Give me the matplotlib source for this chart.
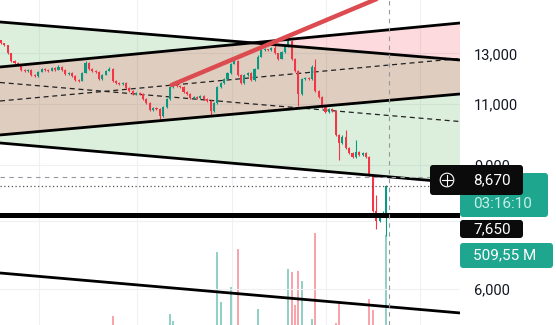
import matplotlib
matplotlib.use("Agg")
import matplotlib.pyplot as plt
from matplotlib.patches import FancyBboxPatch, Circle
from matplotlib.lines import Line2D
from matplotlib.transforms import IdentityTransform
from matplotlib.ticker import NullLocator

plt.rcParams['font.family'] = ['Roboto', 'DejaVu Sans']

# daily candles (price, log scale)
opens = [13570, 13440, 13350, 13000, 12700, 12615, 12530, 12325, 12285, 12325,
         12120, 12080, 12245, 12365, 12325, 12285, 12405, 12325, 12450, 12325,
         12160, 12200, 12080, 11920, 11880, 12200, 12615, 12365, 12285, 12245,
         11960, 12120, 12285, 12365, 11880, 11800, 11760, 11800, 11610, 11490,
         11380, 11415, 11380, 11190, 11040, 10790, 10860, 10820, 10575, 10895,
         11190, 11645, 11720, 11685, 11645, 11455, 11380, 11225, 11265, 11225,
         11300, 11190, 11115, 10750, 11040, 11645, 11800, 11960, 12200, 12575,
         12700, 12120, 11800, 12120, 12200, 11920, 12365, 12870, 13130, 13175,
         13130, 13220, 13000, 12785, 13045, 13305, 13530, 12785, 12285, 11380,
         11960, 12000, 11960, 12450, 11490, 11265, 10895, 10715, 10820, 10750,
         9955, 9695, 9890, 9535, 9375, 9255, 9410, 9315, 9375, 9255,
         8715, 7755, 7500, 7625, 7700]
closes = [13440, 13350, 13000, 12700, 12615, 12530, 12325, 12285, 12325, 12120,
          12080, 12245, 12365, 12325, 12285, 12405, 12325, 12450, 12325, 12160,
          12200, 12080, 11920, 11880, 12200, 12615, 12365, 12285, 12245, 11960,
          12120, 12285, 12365, 11880, 11800, 11760, 11800, 11610, 11490, 11380,
          11415, 11380, 11190, 11040, 10790, 10860, 10820, 10575, 10895, 11190,
          11645, 11720, 11685, 11645, 11455, 11380, 11225, 11265, 11225, 11300,
          11190, 11115, 10750, 11040, 11645, 11800, 11960, 12200, 12575, 12700,
          12120, 11800, 12120, 12200, 11920, 12365, 12870, 13130, 13175, 13130,
          13220, 13000, 12785, 13045, 13305, 13530, 12785, 12285, 11380, 11960,
          12000, 11960, 12450, 11490, 11265, 10895, 10715, 10820, 10750, 9955,
          9695, 9890, 9535, 9375, 9255, 9410, 9315, 9375, 9255, 8715,
          7755, 7500, 7625, 7700, 8400]
highs = [13610, 13470, 13380, 13040, 12740, 12660, 12560, 12360, 12370, 12350,
         12150, 12290, 12400, 12400, 12350, 12440, 12440, 12500, 12480, 12350,
         12240, 12230, 12110, 11950, 12240, 12700, 12650, 12400, 12320, 12280,
         12160, 12320, 12450, 12400, 11910, 11830, 11840, 11830, 11640, 11520,
         11450, 11440, 11410, 11220, 11070, 10900, 10890, 10850, 10930, 11230,
         11690, 11800, 11750, 11720, 11680, 11490, 11410, 11300, 11300, 11340,
         11330, 11220, 11150, 11080, 11690, 11850, 12000, 12240, 12620, 12785,
         12740, 12150, 12160, 12240, 12230, 12400, 12920, 13180, 13220, 13210,
         13260, 13440, 13040, 13090, 13350, 13620, 13570, 12820, 12320, 12000,
         12040, 12040, 12500, 12785, 11520, 11300, 10930, 10860, 10860, 10790,
         9990, 9930, 10124, 9570, 9400, 9790, 9440, 9410, 9410, 9290,
         8750, 8150, 7660, 7740, 8430]
lows = [13400, 13320, 12960, 12660, 12570, 12490, 12290, 12250, 12250, 12080,
        12040, 12050, 12220, 12290, 12250, 12260, 12290, 12300, 12290, 12120,
        12130, 12040, 11880, 11840, 11860, 12180, 12330, 12250, 12210, 11920,
        11930, 12100, 12260, 11840, 11760, 11720, 11730, 11570, 11450, 11340,
        11350, 11340, 11150, 11000, 10750, 10760, 10780, 10470, 10550, 10870,
        11160, 11620, 11650, 11610, 11420, 11340, 11190, 11190, 11190, 11200,
        11150, 11080, 10575, 10720, 11010, 11610, 11770, 11930, 12170, 12550,
        12080, 11760, 11770, 12090, 11880, 11890, 12340, 12840, 13100, 13090,
        13100, 12960, 12740, 12760, 13020, 13280, 12740, 12250, 10930, 11340,
        11920, 11920, 11930, 11450, 11230, 10860, 10680, 10680, 10710, 9920,
        9160, 9660, 9500, 9340, 9220, 9230, 9280, 9290, 9220, 8680,
        7720, 7300, 7470, 7600, 7135]

# visible volume bars (millions)
vol_idx = [33, 50, 51, 64, 65, 68, 70, 76, 85, 86, 87, 88, 89, 92, 93, 99, 100, 109, 110, 114]
vol_val = [51, 62, 23, 413, 130, 215, 430, 91, 317, 300, 113, 306, 249, 34, 521, 10, 130, 147, 85, 509.55]

# drawn trendlines: [price at left edge, price at right edge]
edge_x = [-0.3, 135.8]
desc_top = [14420, 12725]
desc_bot = [9685, 8490]
desc_mid = [11817, 10393]
asc_top = [12435, 14372]
asc_bot = [9944, 11379]
asc_mid = [11119, 12788]
low_line = [6315, 5537]
trend_x = [50.5, 135.8]
trend_y = [11721, 17450]
level = 7650
cross_price = 8670
cross_x = 114.8
last_price = closes[-1]

axis_ticks = [13000, 11000, 9000, 6000]
axis_labels = ["13,000", "11,000", "9,000", "6,000"]
grid_prices = [13000, 11000, 9000, 7500, 6000]
grid_x = [11.2, 40.2, 68.3, 96.2, 124.0]

UP = '#089981'
DOWN = '#f23645'

fig = plt.figure(figsize=(5.56, 3.25), dpi=100)
rect = [0, 0, 460 / 556, 1]
axv = fig.add_axes(rect)
ax = fig.add_axes(rect, sharex=axv)
ax.patch.set_visible(False)

# volume pane underneath
vcol = [UP if closes[i] >= opens[i] else DOWN for i in vol_idx]
axv.bar(vol_idx, vol_val, width=0.6, color=vcol, alpha=0.45, linewidth=0)
axv.set_ylim(0, 1840)
axv.set_xlim(edge_x)
axv.axis('off')

ax.set_yscale('log')
ax.set_ylim(5322, 15501)
ax.set_xlim(edge_x)

for g in grid_prices:
    ax.axhline(g, color='#eef0f4', lw=0.8, zorder=0)
for g in grid_x:
    ax.axvline(g, color='#eef0f4', lw=0.8, zorder=0)

# channels
ax.fill(edge_x + edge_x[::-1], desc_top + desc_bot[::-1], color='#4caf50', alpha=0.2, lw=0, zorder=1)
ax.fill(edge_x + edge_x[::-1], asc_top + asc_bot[::-1], color=DOWN, alpha=0.18, lw=0, zorder=1)
for ln in (desc_mid, asc_mid):
    ax.plot(edge_x, ln, color='#222', lw=0.9, ls=(0, (4, 3)), zorder=2)

# candles
for i in range(len(closes)):
    c = UP if closes[i] >= opens[i] else DOWN
    ax.vlines(i, lows[i], highs[i], color=c, lw=0.8, zorder=3)
    lo, hi = min(opens[i], closes[i]), max(opens[i], closes[i])
    if hi - lo < 15:
        hi = lo + 15
    ax.bar(i, hi - lo, bottom=lo, width=0.62, color=c, lw=0, zorder=3)

for ln in (desc_top, desc_bot, asc_top, asc_bot, low_line):
    ax.plot(edge_x, ln, color='black', lw=2.0, zorder=4, solid_capstyle='butt')
ax.plot(trend_x, trend_y, color='#db4b4f', lw=3.2, zorder=4, solid_capstyle='round')
ax.axhline(level, color='black', lw=3.6, zorder=4)

# crosshair + price line
ax.axhline(cross_price, color='#9598a1', lw=0.8, ls=(0, (4, 4)), zorder=5)
ax.axvline(cross_x, color='#9598a1', lw=0.8, ls=(0, (4, 4)), zorder=5)
ax.axhline(last_price, color='#555', lw=0.9, ls=(0, (1, 2)), zorder=5)

ax.yaxis.tick_right()
ax.set_yticks(axis_ticks)
ax.set_yticklabels(axis_labels)
ax.yaxis.set_minor_locator(NullLocator())
ax.tick_params(axis='y', length=0, pad=10, labelsize=10.5, labelcolor='#131722')
ax.tick_params(axis='x', bottom=False, labelbottom=False)
for s in ax.spines.values():
    s.set_visible(False)

H = 325


def label_box(x0, y0, x1, y1, fc, text, tc, z, ty=None):
    p = FancyBboxPatch((x0, H - y1), x1 - x0, y1 - y0,
                       boxstyle="round,pad=0,rounding_size=3",
                       transform=IdentityTransform(), fc=fc, ec='none', zorder=z)
    fig.add_artist(p)
    if ty is None:
        ty = (y0 + y1) / 2
    fig.text(473 / 556, 1 - ty / H, text, color=tc, fontsize=11,
             va='center', ha='left', zorder=z + 0.5)


label_box(460, 173, 548, 217, '#1fa68f', "03:16:10", '#c6efe7', 3, ty=204)
label_box(430, 165, 523, 195, '#0b0b0b', "8,670", 'white', 4)
label_box(460, 220, 523, 238, '#0b0b0b', "7,650", 'white', 5)
label_box(460, 243, 553, 268, '#1fa68f', "509,55 M", 'white', 6)

# crosshair icon
fig.add_artist(Circle((4.47, (H - 180) / 100), 0.068, transform=fig.dpi_scale_trans,
                      fill=False, ec='white', lw=0.8, zorder=6))
fig.add_artist(Line2D([4.42, 4.52], [1.45, 1.45], transform=fig.dpi_scale_trans,
                      color='white', lw=0.8, zorder=6))
fig.add_artist(Line2D([4.47, 4.47], [1.40, 1.50], transform=fig.dpi_scale_trans,
                      color='white', lw=0.8, zorder=6))

fig.savefig('out.png', dpi=100)
